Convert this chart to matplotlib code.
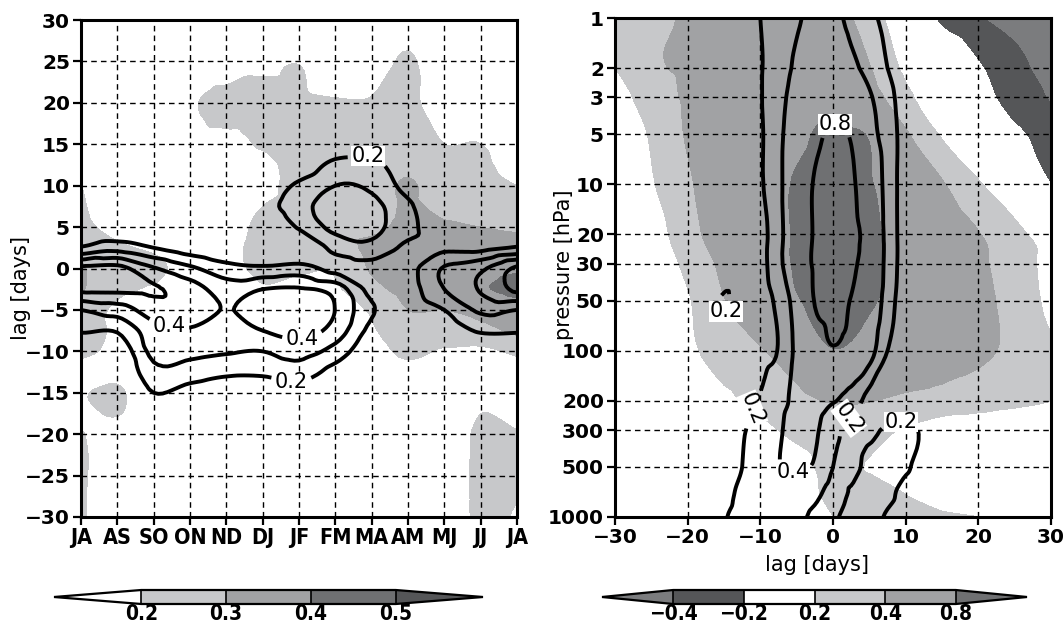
import numpy as np
import matplotlib
matplotlib.use('Agg')
import matplotlib.pyplot as plt
import matplotlib.tri as mtri

# ======= data: left panel (season x lag) =======
months = ['JA', 'AS', 'SO', 'ON', 'ND', 'DJ', 'JF', 'FM', 'MA', 'AM', 'MJ', 'JJ', 'JA']
lags_left = [-30, -25, -20, -17.5, -15, -12.5, -10, -7.5, -5, -2.5,
             0, 2.5, 5, 7.5, 10, 12.5, 15, 20, 25, 30]

# shaded field, one list per month column (values along lags_left)
shade_left_cols = [
    [0.23, 0.23, 0.21, 0.17, 0.19, 0.15, 0.23, 0.25, 0.27, 0.31, 0.31, 0.27, 0.24, 0.22, 0.2, 0.15, 0.1, 0.05, 0.03, 0.02],
    [0.05, 0.05, 0.12, 0.21, 0.22, 0.17, 0.17, 0.18, 0.18, 0.22, 0.23, 0.22, 0.15, 0.1, 0.08, 0.05, 0.05, 0.03, 0.02, 0.02],
    [0.02, 0.03, 0.05, 0.08, 0.1, 0.1, 0.1, 0.12, 0.15, 0.19, 0.23, 0.18, 0.1, 0.05, 0.04, 0.04, 0.04, 0.05, 0.03, 0.02],
    [0.02, 0.03, 0.05, 0.07, 0.08, 0.08, 0.08, 0.1, 0.12, 0.14, 0.15, 0.12, 0.1, 0.08, 0.08, 0.1, 0.14, 0.18, 0.1, 0.03],
    [0.02, 0.03, 0.04, 0.05, 0.06, 0.07, 0.08, 0.09, 0.1, 0.14, 0.17, 0.17, 0.16, 0.15, 0.14, 0.15, 0.17, 0.24, 0.12, 0.03],
    [0.02, 0.03, 0.04, 0.05, 0.06, 0.07, 0.09, 0.11, 0.14, 0.19, 0.22, 0.23, 0.22, 0.2, 0.16, 0.17, 0.21, 0.23, 0.17, 0.05],
    [0.02, 0.03, 0.05, 0.06, 0.08, 0.1, 0.12, 0.14, 0.16, 0.18, 0.21, 0.24, 0.25, 0.25, 0.25, 0.24, 0.23, 0.22, 0.195, 0.05],
    [0.02, 0.03, 0.05, 0.06, 0.08, 0.1, 0.12, 0.15, 0.17, 0.19, 0.21, 0.26, 0.27, 0.26, 0.25, 0.24, 0.23, 0.21, 0.1, 0.03],
    [0.02, 0.03, 0.05, 0.07, 0.1, 0.13, 0.16, 0.19, 0.21, 0.27, 0.31, 0.32, 0.28, 0.26, 0.25, 0.24, 0.23, 0.21, 0.12, 0.03],
    [0.02, 0.03, 0.06, 0.1, 0.13, 0.17, 0.22, 0.26, 0.3, 0.33, 0.34, 0.33, 0.32, 0.31, 0.31, 0.28, 0.25, 0.23, 0.22, 0.12],
    [0.03, 0.04, 0.06, 0.08, 0.1, 0.14, 0.19, 0.24, 0.3, 0.34, 0.35, 0.33, 0.31, 0.28, 0.25, 0.23, 0.2, 0.12, 0.08, 0.03],
    [0.25, 0.26, 0.24, 0.2, 0.15, 0.14, 0.18, 0.27, 0.33, 0.39, 0.37, 0.33, 0.3, 0.27, 0.24, 0.22, 0.2, 0.12, 0.05, 0.03],
    [0.18, 0.23, 0.21, 0.15, 0.12, 0.15, 0.22, 0.32, 0.36, 0.42, 0.39, 0.33, 0.29, 0.25, 0.2, 0.15, 0.1, 0.05, 0.03, 0.02],
]

# contoured field, one list per month column
line_left_cols = [
    [0.0, 0.02, 0.04, 0.05, 0.06, 0.08, 0.12, 0.21, 0.3, 0.52, 0.52, 0.21, 0.1, 0.06, 0.04, 0.03, 0.02, 0.02, 0.01, 0.0],
    [0.0, 0.02, 0.04, 0.05, 0.07, 0.09, 0.12, 0.21, 0.35, 0.52, 0.53, 0.26, 0.1, 0.06, 0.04, 0.03, 0.02, 0.02, 0.01, 0.0],
    [0.0, 0.02, 0.08, 0.12, 0.2, 0.27, 0.33, 0.36, 0.45, 0.51, 0.41, 0.2, 0.08, 0.05, 0.04, 0.03, 0.02, 0.02, 0.01, 0.0],
    [0.0, 0.02, 0.06, 0.1, 0.16, 0.25, 0.33, 0.39, 0.46, 0.45, 0.32, 0.14, 0.05, 0.04, 0.03, 0.03, 0.02, 0.02, 0.01, 0.0],
    [0.0, 0.02, 0.05, 0.08, 0.13, 0.22, 0.31, 0.36, 0.395, 0.35, 0.24, 0.1, 0.05, 0.05, 0.04, 0.03, 0.02, 0.02, 0.01, 0.0],
    [0.0, 0.02, 0.05, 0.08, 0.12, 0.22, 0.3, 0.4, 0.46, 0.4, 0.22, 0.08, 0.1, 0.15, 0.12, 0.07, 0.04, 0.02, 0.01, 0.0],
    [0.0, 0.02, 0.05, 0.09, 0.15, 0.25, 0.34, 0.44, 0.47, 0.41, 0.24, 0.1, 0.21, 0.26, 0.22, 0.12, 0.05, 0.02, 0.01, 0.0],
    [0.0, 0.02, 0.04, 0.07, 0.1, 0.16, 0.26, 0.36, 0.398, 0.36, 0.17, 0.23, 0.33, 0.35, 0.3, 0.23, 0.12, 0.05, 0.02, 0.0],
    [0.0, 0.02, 0.03, 0.04, 0.05, 0.08, 0.12, 0.17, 0.21, 0.17, 0.16, 0.27, 0.33, 0.33, 0.28, 0.23, 0.15, 0.06, 0.02, 0.0],
    [0.0, 0.02, 0.03, 0.04, 0.05, 0.06, 0.08, 0.12, 0.14, 0.16, 0.17, 0.18, 0.23, 0.22, 0.16, 0.12, 0.08, 0.04, 0.02, 0.0],
    [0.0, 0.02, 0.03, 0.04, 0.05, 0.07, 0.1, 0.14, 0.2, 0.3, 0.31, 0.18, 0.12, 0.08, 0.06, 0.04, 0.03, 0.02, 0.01, 0.0],
    [0.0, 0.02, 0.03, 0.04, 0.06, 0.09, 0.13, 0.21, 0.32, 0.41, 0.38, 0.17, 0.1, 0.06, 0.04, 0.03, 0.02, 0.02, 0.01, 0.0],
    [0.0, 0.02, 0.04, 0.05, 0.06, 0.08, 0.12, 0.21, 0.3, 0.52, 0.52, 0.21, 0.1, 0.06, 0.04, 0.03, 0.02, 0.02, 0.01, 0.0],
]

# ======= data: right panel (lag x pressure) =======
lags_right = [-30, -25, -20, -15, -10, -5, 0, 5, 10, 15, 20, 25, 30]
lags_right_lines = [-30, -20, -15, -12.5, -10, -7.5, -5, -2.5, 0, 2.5, 5, 7.5, 10, 12.5, 15, 20, 30]
pressure = [1, 2, 3, 5, 10, 20, 30, 50, 100, 200, 300, 500, 700, 1000]

# shaded field, one row per pressure level (values along lags_right)
shade_right = [
    [0.3, 0.37, 0.42, 0.55, 0.6, 0.6, 0.5, 0.3, 0.05, -0.25, -0.38, -0.5, -0.55],
    [0.2, 0.37, 0.43, 0.55, 0.62, 0.65, 0.6, 0.41, 0.16, 0.02, -0.18, -0.3, -0.55],
    [0.1, 0.3, 0.43, 0.55, 0.63, 0.68, 0.7, 0.5, 0.25, 0.05, -0.1, -0.3, -0.42],
    [0.05, 0.22, 0.42, 0.55, 0.65, 0.75, 0.85, 0.78, 0.43, 0.18, 0.02, -0.15, -0.3],
    [0.0, 0.18, 0.37, 0.55, 0.68, 0.82, 0.9, 0.82, 0.6, 0.42, 0.22, 0.05, -0.2],
    [-0.05, 0.1, 0.32, 0.52, 0.68, 0.82, 0.9, 0.84, 0.7, 0.55, 0.41, 0.25, 0.1],
    [-0.08, 0.05, 0.25, 0.45, 0.65, 0.82, 0.9, 0.84, 0.72, 0.58, 0.44, 0.3, 0.13],
    [-0.1, 0.0, 0.18, 0.39, 0.62, 0.78, 0.88, 0.82, 0.72, 0.6, 0.46, 0.33, 0.15],
    [-0.12, -0.02, 0.15, 0.3, 0.38, 0.55, 0.79, 0.7, 0.62, 0.55, 0.45, 0.35, 0.22],
    [-0.15, -0.08, 0.05, 0.16, 0.25, 0.33, 0.42, 0.41, 0.36, 0.32, 0.28, 0.24, 0.2],
    [-0.15, -0.1, 0.0, 0.08, 0.16, 0.24, 0.3, 0.27, 0.18, 0.12, 0.1, 0.08, 0.05],
    [-0.1, -0.05, 0.0, 0.05, 0.1, 0.14, 0.25, 0.19, 0.12, 0.1, 0.08, 0.06, 0.05],
    [-0.05, -0.02, 0.0, 0.04, 0.08, 0.12, 0.24, 0.26, 0.19, 0.1, 0.05, 0.03, 0.02],
    [0.0, 0.0, 0.02, 0.05, 0.1, 0.16, 0.2, 0.24, 0.25, 0.23, 0.2, 0.12, 0.05],
]

# contoured field, one row per pressure level (values along lags_right_lines)
line_right = [
    [0.0, 0.05, 0.1, 0.15, 0.2, 0.28, 0.37, 0.47, 0.47, 0.33, 0.24, 0.15, 0.08, 0.03, 0.0, -0.05, -0.1],
    [0.0, 0.05, 0.1, 0.15, 0.19, 0.3, 0.44, 0.55, 0.6, 0.46, 0.33, 0.2, 0.1, 0.04, 0.0, -0.05, -0.1],
    [0.0, 0.05, 0.1, 0.15, 0.19, 0.33, 0.5, 0.65, 0.72, 0.6, 0.43, 0.26, 0.12, 0.05, 0.0, -0.05, -0.1],
    [0.0, 0.05, 0.1, 0.14, 0.18, 0.35, 0.55, 0.74, 0.83, 0.78, 0.5, 0.3, 0.13, 0.05, 0.0, -0.05, -0.1],
    [0.0, 0.05, 0.1, 0.14, 0.18, 0.35, 0.6, 0.82, 0.9, 0.84, 0.62, 0.32, 0.12, 0.05, 0.0, -0.05, -0.1],
    [0.0, 0.05, 0.1, 0.12, 0.14, 0.33, 0.62, 0.82, 0.9, 0.86, 0.7, 0.33, 0.12, 0.05, 0.0, -0.05, -0.1],
    [0.0, 0.05, 0.12, 0.12, 0.14, 0.34, 0.63, 0.83, 0.9, 0.84, 0.68, 0.33, 0.12, 0.05, 0.0, -0.05, -0.1],
    [0.0, 0.05, 0.21, 0.1, 0.12, 0.25, 0.5, 0.81, 0.86, 0.79, 0.62, 0.3, 0.1, 0.05, 0.0, -0.05, -0.1],
    [0.0, 0.05, 0.08, 0.11, 0.14, 0.21, 0.45, 0.68, 0.78, 0.7, 0.5, 0.2, 0.08, 0.04, 0.02, 0.0, -0.05],
    [0.0, 0.08, 0.14, 0.17, 0.21, 0.33, 0.45, 0.5, 0.42, 0.3, 0.13, 0.08, 0.1, 0.1, 0.06, 0.02, 0.0],
    [0.0, 0.1, 0.16, 0.19, 0.25, 0.37, 0.48, 0.43, 0.26, 0.15, 0.17, 0.22, 0.23, 0.18, 0.1, 0.03, 0.0],
    [0.0, 0.1, 0.17, 0.2, 0.28, 0.39, 0.42, 0.38, 0.2, 0.15, 0.25, 0.28, 0.22, 0.14, 0.08, 0.03, 0.0],
    [0.0, 0.1, 0.17, 0.22, 0.28, 0.32, 0.3, 0.25, 0.15, 0.21, 0.27, 0.24, 0.15, 0.1, 0.06, 0.02, 0.0],
    [0.0, 0.1, 0.19, 0.23, 0.27, 0.28, 0.24, 0.17, 0.18, 0.25, 0.26, 0.18, 0.12, 0.08, 0.05, 0.02, 0.0],
]

# ======= levels and colours =======
levels_left = [0.2, 0.3, 0.4, 0.5]
levels_right = [-0.4, -0.2, 0.2, 0.4, 0.8]
line_levels_left = [0.2, 0.3, 0.4, 0.5]
line_levels_right = [0.2, 0.4, 0.8]

light, medium, dark, darker, corner = '#c7c8ca', '#a1a2a4', '#6f7072', '#555658', '#7b7c7e'
colors_left = ['white', light, medium, dark, darker]
colors_right = [corner, darker, 'white', light, medium, dark]

plt.rcParams['font.family'] = ['DejaVu Sans']


# ====== smooth triangulation of a gridded field (matplotlib tri tools) ======
def smooth_grid(xv, yv, Z, subdiv=3):
    ii, jj = np.meshgrid(np.arange(len(xv), dtype=float), np.arange(len(yv), dtype=float))
    tri = mtri.Triangulation(ii.ravel(), jj.ravel())
    z = np.asarray(Z, dtype=float).ravel()
    interp = mtri.CubicTriInterpolator(tri, z, kind='geom')
    tri_f, z_f = mtri.UniformTriRefiner(tri).refine_field(z, triinterpolator=interp, subdiv=subdiv)
    xf = np.interp(tri_f.x, np.arange(len(xv)), xv)
    yf = np.interp(tri_f.y, np.arange(len(yv)), yv)
    return mtri.Triangulation(xf, yf, tri_f.triangles), z_f


fig = plt.figure(figsize=(10.63, 6.25), dpi=100)
W, H = 1063, 625
ax1 = fig.add_axes([81 / W, 1 - 517 / H, 436 / W, 497 / H])
ax2 = fig.add_axes([615 / W, 1 - 517 / H, 436 / W, 499 / H])
cax1 = fig.add_axes([54 / W, 1 - 604 / H, 429 / W, 14 / H])
cax2 = fig.add_axes([602 / W, 1 - 604 / H, 425 / W, 14 / H])

# ======= left panel =======
xm = np.arange(len(months))
tS1, zS1 = smooth_grid(xm, lags_left, np.array(shade_left_cols).T)
tL1, zL1 = smooth_grid(xm, lags_left, np.array(line_left_cols).T)
cf1 = ax1.tricontourf(tS1, zS1, levels=levels_left, colors=colors_left, extend='both')
cs1 = ax1.tricontour(tL1, zL1, levels=line_levels_left, colors='black', linewidths=2.8)
lab1 = ax1.clabel(cs1, manual=[(7.9, 13.5), (2.4, -7.3), (6.1, -8.7), (5.8, -13.3)],
                  inline=True, fmt='%.1f', fontsize=15, inline_spacing=4)
for t in lab1:
    t.set_rotation(0)
    t.set_bbox(dict(facecolor='white', edgecolor='none', pad=0.3))

ax1.set_xlim(0, 12)
ax1.set_ylim(-30, 30)
ax1.set_xticks(xm)
ax1.set_xticklabels(months)
ax1.set_yticks(np.arange(-30, 31, 5))
ax1.set_ylabel('lag [days]', fontsize=15)
ax1.yaxis.set_label_coords(-0.115, 0.46)

# ======= right panel =======
logp = np.log10(pressure)
tS2, zS2 = smooth_grid(lags_right, logp, shade_right)
tL2, zL2 = smooth_grid(lags_right_lines, logp, line_right)
cf2 = ax2.tricontourf(tS2, zS2, levels=levels_right, colors=colors_right, extend='both')
cs2 = ax2.tricontour(tL2, zL2, levels=line_levels_right, colors='black', linewidths=2.8)
lab2_pos = [(0.3, np.log10(4.3)), (-15.0, np.log10(60)), (-10.8, np.log10(230)),
            (-5.5, np.log10(570)), (1.3, np.log10(235)), (9.3, np.log10(255))]
lab2 = ax2.clabel(cs2, manual=lab2_pos, inline=True, fmt='%.1f', fontsize=15, inline_spacing=4)
for i, t in enumerate(lab2):
    if i in (0, 1, 3, 5):
        t.set_rotation(0)
    t.set_bbox(dict(facecolor='white', edgecolor='none', pad=0.3))

p_ticks = [1, 2, 3, 5, 10, 20, 30, 50, 100, 200, 300, 500, 1000]
ax2.set_xlim(-30, 30)
ax2.set_ylim(3, 0)
ax2.set_yticks(np.log10(p_ticks))
ax2.set_yticklabels([str(p) for p in p_ticks])
ax2.set_xticks(np.arange(-30, 31, 10))
ax2.set_xlabel('lag [days]', fontsize=15)
ax2.xaxis.set_label_coords(0.463, -0.076)
ax2.set_ylabel('pressure [hPa]', fontsize=15)
ax2.yaxis.set_label_coords(-0.094, 0.505)

for ax in (ax1, ax2):
    ax.grid(True, color='black', linestyle=(0, (4, 3)), linewidth=1.0)
    ax.tick_params(direction='out', length=6, width=1.6, pad=2)
    for t in ax.get_xticklabels() + ax.get_yticklabels():
        t.set_fontsize(14.5)
        t.set_fontweight('bold')
    for sp in ax.spines.values():
        sp.set_linewidth(2.2)

for t in ax1.get_xticklabels():
    t.set_fontstretch('condensed')
    t.set_fontsize(15.5)

# ======= colour bars =======
cb1 = fig.colorbar(cf1, cax=cax1, orientation='horizontal', ticks=levels_left,
                   extendfrac=0.343, drawedges=True)
cb2 = fig.colorbar(cf2, cax=cax2, orientation='horizontal', ticks=levels_right,
                   extendfrac=0.252, drawedges=True)
for cb in (cb1, cb2):
    cb.outline.set_linewidth(1.6)
    cb.dividers.set_linewidth(1.2)
    cb.ax.tick_params(length=0, pad=0)
    for t in cb.ax.get_xticklabels():
        t.set_fontsize(15)
        t.set_fontstretch('condensed')
        t.set_fontweight('bold')

fig.savefig('out.png', dpi=100)
